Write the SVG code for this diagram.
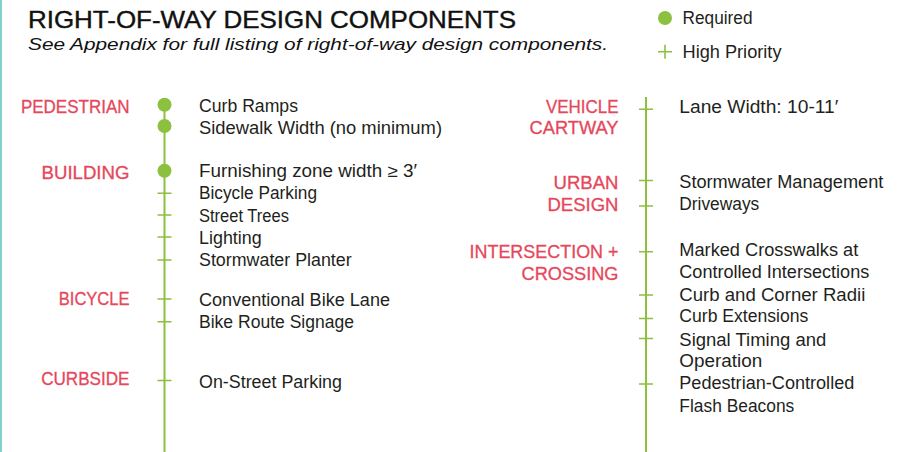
<svg xmlns="http://www.w3.org/2000/svg" width="903" height="452" viewBox="0 0 903 452">
<style>
text{font-family:"Liberation Sans",Arial,sans-serif;}
.t{font-size:17.5px;fill:#231f20;}
.c{font-size:18px;fill:#e6475b;text-anchor:end;stroke:#e6475b;stroke-width:0.3;}
.title{font-size:24px;fill:#111;stroke:#111;stroke-width:0.4;}
.sub{font-size:17px;font-style:italic;fill:#111;}
.ln{stroke:#8cc03f;stroke-width:2;fill:none;}
.tk{stroke:#8cc03f;stroke-width:1.6;fill:none;}
.dot{fill:#8cc03f;}
</style>
<rect width="903" height="452" fill="#fff"/>
<line x1="1" y1="0" x2="1" y2="452" stroke="#84d0cf" stroke-width="2"/>
<g id="header">
<text class="title" x="28" y="28" textLength="488" lengthAdjust="spacingAndGlyphs">RIGHT-OF-WAY DESIGN COMPONENTS</text>
<text class="sub" x="28" y="50" textLength="580" lengthAdjust="spacingAndGlyphs">See Appendix for full listing of right-of-way design components.</text>
</g>
<g id="legend">
<circle class="dot" cx="665" cy="18" r="7"/>
<text class="t" x="682.5" y="24" textLength="70" lengthAdjust="spacingAndGlyphs">Required</text>
<path class="tk" d="M658 51.7H672M665 44.7V58.7"/>
<text class="t" x="682.5" y="57.5" textLength="99" lengthAdjust="spacingAndGlyphs">High Priority</text>
</g>
<g id="connectors">
<line class="ln" x1="164.5" y1="104" x2="164.5" y2="452"/>
<line class="ln" x1="646" y1="97" x2="646" y2="452"/>
<path class="tk" d="M157.5 193.3H171.5M157.5 215H171.5M157.5 237H171.5M157.5 260H171.5M157.5 299H171.5M157.5 321.7H171.5M157.5 380.5H171.5"/>
<path class="tk" d="M639 109.3H653M639 180.5H653M639 206H653M639 251.7H653M639 295H653M639 318.5H653M639 338.5H653M639 384H653"/>
</g>
<g id="pedestrian">
<text class="c" x="129.5" y="112.7" textLength="108.6" lengthAdjust="spacingAndGlyphs">PEDESTRIAN</text>
<circle class="dot" cx="164.5" cy="104.7" r="7"/>
<circle class="dot" cx="164.5" cy="126" r="7"/>
<text class="t" x="199" y="112.3" textLength="99" lengthAdjust="spacingAndGlyphs">Curb Ramps</text>
<text class="t" x="199" y="134" textLength="243" lengthAdjust="spacingAndGlyphs">Sidewalk Width (no minimum)</text>
</g>
<g id="building">
<text class="c" x="129.5" y="179" textLength="88" lengthAdjust="spacingAndGlyphs">BUILDING</text>
<circle class="dot" cx="164.5" cy="170.7" r="7"/>
<text class="t" x="199" y="177.3" textLength="218" lengthAdjust="spacingAndGlyphs">Furnishing zone width ≥ 3′</text>
<text class="t" x="199" y="199.3" textLength="118" lengthAdjust="spacingAndGlyphs">Bicycle Parking</text>
<text class="t" x="199" y="221.5" textLength="90" lengthAdjust="spacingAndGlyphs">Street Trees</text>
<text class="t" x="199" y="243.5" textLength="62.7" lengthAdjust="spacingAndGlyphs">Lighting</text>
<text class="t" x="199" y="266" textLength="152.7" lengthAdjust="spacingAndGlyphs">Stormwater Planter</text>
</g>
<g id="bicycle">
<text class="c" x="129.5" y="305" textLength="70.7" lengthAdjust="spacingAndGlyphs">BICYCLE</text>
<text class="t" x="199" y="305.7" textLength="191" lengthAdjust="spacingAndGlyphs">Conventional Bike Lane</text>
<text class="t" x="199" y="327.7" textLength="155" lengthAdjust="spacingAndGlyphs">Bike Route Signage</text>
</g>
<g id="curbside">
<text class="c" x="129.5" y="385" textLength="88.3" lengthAdjust="spacingAndGlyphs">CURBSIDE</text>
<text class="t" x="199" y="388.3" textLength="143" lengthAdjust="spacingAndGlyphs">On-Street Parking</text>
</g>
<g id="vehicle-cartway">
<text class="c" x="618.5" y="112.7" textLength="72.6" lengthAdjust="spacingAndGlyphs">VEHICLE</text>
<text class="c" x="618.5" y="134.3" textLength="89" lengthAdjust="spacingAndGlyphs">CARTWAY</text>
<text class="t" x="679.3" y="113.3" textLength="159" lengthAdjust="spacingAndGlyphs">Lane Width: 10-11′</text>
</g>
<g id="urban-design">
<text class="c" x="618.5" y="189" textLength="65" lengthAdjust="spacingAndGlyphs">URBAN</text>
<text class="c" x="618.5" y="210.7" textLength="71" lengthAdjust="spacingAndGlyphs">DESIGN</text>
<text class="t" x="679.3" y="188.3" textLength="204" lengthAdjust="spacingAndGlyphs">Stormwater Management</text>
<text class="t" x="679.3" y="210" textLength="80" lengthAdjust="spacingAndGlyphs">Driveways</text>
</g>
<g id="intersection-crossing">
<text class="c" x="618.5" y="258.3" textLength="149" lengthAdjust="spacingAndGlyphs">INTERSECTION +</text>
<text class="c" x="618.5" y="280" textLength="97" lengthAdjust="spacingAndGlyphs">CROSSING</text>
<text class="t" x="679.3" y="256" textLength="179" lengthAdjust="spacingAndGlyphs">Marked Crosswalks at</text>
<text class="t" x="679.3" y="278" textLength="190" lengthAdjust="spacingAndGlyphs">Controlled Intersections</text>
<text class="t" x="679.3" y="301" textLength="186" lengthAdjust="spacingAndGlyphs">Curb and Corner Radii</text>
<text class="t" x="679.3" y="322.3" textLength="129" lengthAdjust="spacingAndGlyphs">Curb Extensions</text>
<text class="t" x="679.3" y="345.7" textLength="147" lengthAdjust="spacingAndGlyphs">Signal Timing and</text>
<text class="t" x="679.3" y="367.3" textLength="83" lengthAdjust="spacingAndGlyphs">Operation</text>
<text class="t" x="679.3" y="389.3" textLength="175" lengthAdjust="spacingAndGlyphs">Pedestrian-Controlled</text>
<text class="t" x="679.3" y="412.3" textLength="115" lengthAdjust="spacingAndGlyphs">Flash Beacons</text>
</g>
</svg>
